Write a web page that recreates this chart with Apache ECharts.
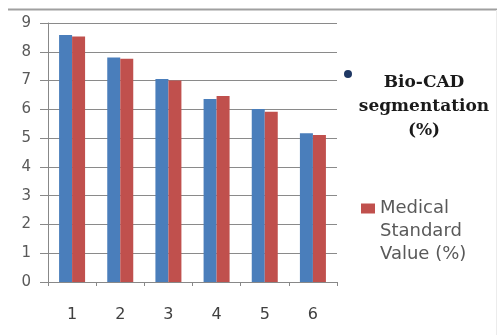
<!DOCTYPE html>
<html>
<head>
<meta charset="utf-8">
<script src="https://cdn.jsdelivr.net/npm/echarts@6/dist/echarts.min.js"></script>
<style>html,body{margin:0;padding:0;background:#fff}#c{width:497px;height:335px}</style>
</head>
<body>
<div id="c"></div>
<script>
const categories = ['1', '2', '3', '4', '5', '6'];
const bioCad = [8.58, 7.80, 7.05, 6.36, 6.01, 5.17];
const medical = [8.53, 7.76, 7.00, 6.46, 5.92, 5.11];
const seriesNames = ['Bio-CAD segmentation (%)', 'Medical Standard Value (%)'];

const chart = echarts.init(document.getElementById('c'), null, {renderer: 'canvas'});
chart.setOption({
  backgroundColor: '#ffffff',
  animation: false,
  grid: {left: 48, top: 23, width: 289, height: 259, containLabel: false},
  xAxis: {
    type: 'category',
    data: categories,
    axisLine: {lineStyle: {color: '#888888', width: 1}},
    axisTick: {show: true, length: 4, lineStyle: {color: '#888888'}},
    axisLabel: {color: '#404040', fontSize: 16, fontFamily: 'DejaVu Sans', margin: 25}
  },
  yAxis: {
    type: 'value',
    min: 0, max: 9, interval: 1,
    axisLine: {show: true, lineStyle: {color: '#888888', width: 1}},
    axisTick: {show: true, length: 8, lineStyle: {color: '#888888'}},
    axisLabel: {color: '#595959', fontSize: 15, fontFamily: 'DejaVu Sans', margin: 17},
    splitLine: {lineStyle: {color: '#8a8a8a', width: 1.2}}
  },
  legend: [
    {
      data: [{name: seriesNames[0], itemStyle: {color: '#1f3864'}}],
      icon: 'circle',
      left: 344, top: 5, padding: 0,
      itemWidth: 8, itemHeight: 8,
      selectedMode: false,
      formatter: function () { return '{a|Bio-CAD}\n{a|segmentation}\n{a|(%)}'; },
      textStyle: {
        padding: [66, 0, 0, 0],
        lineHeight: 24,
        rich: {a: {width: 134, align: 'center', fontFamily: 'DejaVu Serif', fontWeight: 'bold', fontSize: 17, color: '#1a1a1a', lineHeight: 24}}
      }
    },
    {
      data: [{name: seriesNames[1]}],
      icon: 'rect',
      left: 361, top: 151, padding: 0,
      itemWidth: 14, itemHeight: 10,
      selectedMode: false,
      formatter: function () { return '{b|Medical}\n{b|Standard}\n{b|Value (%)}'; },
      textStyle: {
        padding: [46, 0, 0, 0],
        lineHeight: 23,
        rich: {b: {fontFamily: 'DejaVu Sans', fontSize: 18, color: '#595959', lineHeight: 23}}
      }
    }
  ],
  graphic: [
    {type: 'line', shape: {x1: 8, y1: 9.5, x2: 497, y2: 9.5}, style: {stroke: '#a0a0a0', lineWidth: 2}, silent: true},
    {type: 'line', shape: {x1: 496.5, y1: 10, x2: 496.5, y2: 335}, style: {stroke: '#ececec', lineWidth: 1}, silent: true}
  ],
  series: [
    {name: seriesNames[0], type: 'bar', data: bioCad, barWidth: 13, barGap: '0%', itemStyle: {color: '#4a7ebb'}},
    {name: seriesNames[1], type: 'bar', data: medical, barWidth: 13, barGap: '0%', itemStyle: {color: '#c0504d'}}
  ]
});
</script>
</body>
</html>
